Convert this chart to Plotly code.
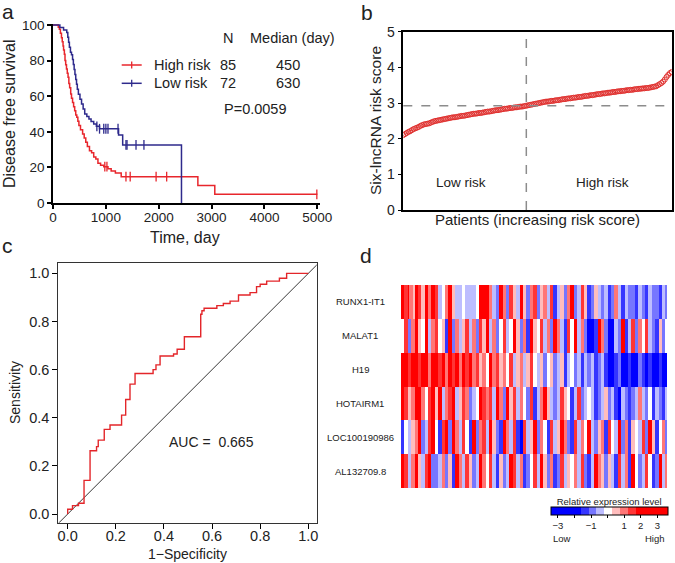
import plotly.graph_objects as go

W, H = 675, 563
FONT = "Liberation Sans, Arial, sans-serif"


def px(x):
    return x / W


def py(y):
    return 1 - y / H


# ---- a: Kaplan-Meier, disease free survival ----
high_t = [0, 100, 120, 140, 160, 175, 190, 200, 215, 227, 240, 255, 270, 285, 300, 315, 335, 350,
          370, 390, 410, 430, 450, 470, 490, 520, 560, 590, 620, 650, 690, 730, 770, 810, 850, 900,
          960, 1040, 1100, 1180, 1290, 2740, 3060, 5000]
high_s = [100, 98.8, 97.6, 95.3, 92.9, 90.6, 88.2, 85.9, 83.5, 80.0, 77.6, 75.3, 72.9, 70.6, 67.1,
          64.7, 61.2, 58.8, 56.5, 54.1, 51.8, 49.4, 48.2, 45.9, 43.5, 41.2, 38.8, 36.5, 34.1, 31.8,
          29.4, 28.2, 25.9, 24.7, 22.4, 21.2, 20.4, 19.2, 18.0, 16.8, 14.8, 9.9, 4.9, 4.9]
low_t = [0, 130, 200, 260, 280, 295, 310, 330, 350, 370, 385, 400, 415, 430, 445, 460, 480, 510,
         540, 570, 600, 640, 680, 720, 770, 820, 880, 1240, 1318, 2430]
low_s = [100, 98.6, 97.2, 95.8, 93.1, 90.3, 87.5, 84.7, 83.3, 80.6, 77.8, 75.0, 72.2, 69.4, 66.7,
         63.9, 61.1, 58.3, 55.6, 52.8, 50.0, 48.6, 47.2, 45.8, 44.4, 43.1, 41.7, 38.2, 32.6, 0]
high_censor_t = [980, 1020, 1380, 1460, 1950, 2150, 4990]
low_censor_t = [830, 880, 960, 1000, 1040, 1230, 1380, 1400, 1570, 1720]
groups = ["High risk", "Low risk"]
n_patients = [85, 72]
median_days = [450, 630]
p_text = "P=0.0059"

# ---- b: risk score distribution ----
risk_score = [
    2.10, 2.13, 2.16, 2.19, 2.21, 2.24, 2.27, 2.29, 2.31, 2.33,
    2.36, 2.38, 2.40, 2.41, 2.42, 2.43, 2.45, 2.47, 2.49, 2.50,
    2.51, 2.52, 2.53, 2.54, 2.55, 2.56, 2.57, 2.58, 2.59, 2.60,
    2.60, 2.61, 2.62, 2.63, 2.64, 2.64, 2.65, 2.66, 2.67, 2.68,
    2.69, 2.70, 2.70, 2.71, 2.72, 2.72, 2.73, 2.74, 2.75, 2.76,
    2.76, 2.77, 2.78, 2.79, 2.80, 2.80, 2.81, 2.82, 2.83, 2.84,
    2.84, 2.85, 2.86, 2.86, 2.87, 2.88, 2.88, 2.89, 2.90, 2.90, 2.91, 2.92,
    2.93, 2.94, 2.95, 2.96, 2.97, 2.98, 2.99, 3.00,
    3.01, 3.02, 3.03, 3.04, 3.04, 3.05, 3.06, 3.06, 3.07, 3.08,
    3.08, 3.09, 3.10, 3.11, 3.11, 3.12, 3.13, 3.13, 3.14, 3.15,
    3.15, 3.16, 3.17, 3.17, 3.18, 3.19, 3.20, 3.20, 3.21, 3.22,
    3.22, 3.23, 3.24, 3.25, 3.25, 3.26, 3.27, 3.27, 3.28, 3.29,
    3.29, 3.30, 3.31, 3.31, 3.32, 3.33, 3.33, 3.34, 3.34, 3.35,
    3.36, 3.36, 3.37, 3.37, 3.38, 3.39, 3.39, 3.40, 3.40, 3.41,
    3.41, 3.42, 3.42, 3.43, 3.44, 3.45, 3.46, 3.47,
    3.50, 3.53, 3.56, 3.60, 3.66, 3.73, 3.79, 3.84, 3.87,
]
n_low = 72
cutoff = 2.92

# ---- c: ROC curve ----
roc_fpr = [0, 0, 0.02, 0.045, 0.068, 0.093, 0.12, 0.127, 0.152, 0.176, 0.224, 0.241, 0.259, 0.28,
           0.355, 0.367, 0.384, 0.44, 0.455, 0.485, 0.553, 0.558, 0.567, 0.62, 0.647, 0.675, 0.71,
           0.758, 0.785, 0.8, 0.827, 0.88, 0.91, 1.0]
roc_tpr = [0, 0.02, 0.035, 0.045, 0.14, 0.263, 0.28, 0.307, 0.352, 0.37, 0.411, 0.476, 0.54, 0.584,
           0.6, 0.62, 0.657, 0.665, 0.685, 0.737, 0.83, 0.845, 0.855, 0.866, 0.875, 0.885, 0.91,
           0.92, 0.945, 0.955, 0.968, 0.98, 1.0, 1.0]
auc = 0.665

# ---- d: heatmap of six lncRNAs (0 = lowest ... 8 = highest) ----
genes = ["RUNX1-IT1", "MALAT1", "H19", "HOTAIRM1", "LOC100190986", "AL132709.8"]
heat_rows = [
    "".join(["8877866588", "7755886688", "7733446688", "5533334433", "3333448888", "8866332288",
             "6622775533", "8855226677", "2255663377", "1133552266", "8822337755", "1122553322",
             "3311226633", "1133222211", "3322113322", "2211332"]),
    "".join(["4477226688", "5544883366", "7744551188", "2266335577", "3366227755", "8833662244",
             "7733448855", "2266118855", "4477336622", "8866331177", "4488336622", "0000118866",
             "2200003322", "8811337722", "6644773322", "1155224"]),
    "".join(["8888778888", "7788886688", "8877886688", "7788668877", "8866775566", "4488667755",
             "6644773355", "6633557744", "3355224455", "2233551133", "4422331133", "2233112233",
             "1100001122", "0000110000", "2211001100", "0011000"]),
    "".join(["8877556688", "8866447788", "5588336677", "8833557766", "2233448877", "6677338866",
             "2288557733", "6644227711", "3366885533", "2233775544", "1133772233", "4433112233",
             "5522331100", "3322112233", "6633224411", "3322113"]),
    "".join(["1144335566", "8822337788", "4411778822", "8866337744", "1188226677", "3388552211",
             "8866337711", "0077335588", "2266441177", "3355886622", "1177336644", "8833225566",
             "1177443388", "2266115544", "3377228855", "1144662"]),
    "".join(["8877336688", "5533778822", "2233662255", "1188663377", "5522338866", "4477331155",
             "2233887733", "6611224477", "3388552266", "1122773355", "4466337722", "1133886655",
             "2255331177", "3366118844", "2233774411", "2288336"]),
]
levels = [-3.0, -1.4, -0.9, -0.45, 0.0, 0.45, 0.95, 1.45, 2.6]
band_breaks = [-1.65, -1.15, -0.7, -0.22, 0.22, 0.7, 1.2, 1.68]
band_colors = ["#0000FF", "#3535FF", "#7676FF", "#BDBDFF", "#FFFFFF",
               "#FFBDBD", "#FF7676", "#FF3535", "#FF0000"]
zmin, zmax = -3.44, 3.63

RED = "#E8262C"
BLUE = "#2E2A8C"


def step_at(ts, ss, t):
    val = ss[0]
    for ti, si in zip(ts, ss):
        if ti <= t:
            val = si
    return val


fig = go.Figure()

# a
fig.add_trace(go.Scatter(x=high_t, y=high_s, mode="lines", line=dict(color=RED, width=1.5, shape="hv"),
                         xaxis="x", yaxis="y", showlegend=False))
fig.add_trace(go.Scatter(x=low_t, y=low_s, mode="lines", line=dict(color=BLUE, width=1.5, shape="hv"),
                         xaxis="x", yaxis="y", showlegend=False))
fig.add_trace(go.Scatter(x=high_censor_t, y=[step_at(high_t, high_s, t) for t in high_censor_t],
                         mode="markers", marker=dict(symbol="line-ns", size=7, line=dict(width=1.3, color=RED)),
                         xaxis="x", yaxis="y", showlegend=False, cliponaxis=False))
fig.add_trace(go.Scatter(x=low_censor_t, y=[step_at(low_t, low_s, t) for t in low_censor_t],
                         mode="markers", marker=dict(symbol="line-ns", size=7, line=dict(width=1.3, color=BLUE)),
                         xaxis="x", yaxis="y", showlegend=False))

# b
fig.add_trace(go.Scatter(x=list(range(1, len(risk_score) + 1)), y=risk_score, mode="markers",
                         marker=dict(symbol="circle-open", size=5, color="#E0302E", line=dict(width=1)),
                         xaxis="x2", yaxis="y2", showlegend=False))

# c
fig.add_trace(go.Scatter(x=[-0.05, 1.05], y=[-0.05, 1.05], mode="lines", line=dict(color="black", width=0.8),
                         xaxis="x3", yaxis="y3", showlegend=False))
fig.add_trace(go.Scatter(x=roc_fpr, y=roc_tpr, mode="lines", line=dict(color="#E3262A", width=1.4, shape="hv"),
                         xaxis="x3", yaxis="y3", showlegend=False))

# d
cs = []
stops = [0.0] + [(b - zmin) / (zmax - zmin) for b in band_breaks] + [1.0]
for i, c in enumerate(band_colors):
    cs.append([stops[i], c])
    cs.append([stops[i + 1], c])
z = [[levels[int(ch)] for ch in row] for row in heat_rows]
assert all(len(r) == len(z[0]) for r in z)
fig.add_trace(go.Heatmap(
    z=z, x=list(range(1, len(z[0]) + 1)), y=genes, xaxis="x4", yaxis="y4",
    colorscale=cs, zmin=zmin, zmax=zmax, showscale=True,
    colorbar=dict(orientation="h", x=px(550.7), xanchor="left", y=py(496), yanchor="top",
                  lenmode="pixels", len=116.6, thicknessmode="pixels", thickness=8,
                  xpad=0, ypad=0, outlinewidth=1, outlinecolor="black",
                  tickvals=[-3, -2, -1, 0, 1, 2, 3], ticktext=["\u22123", "", "\u22121", "", "1", "2", "3"],
                  ticks="outside", ticklen=3, tickcolor="black", tickfont=dict(size=9.5, color="#222"),
                  title=dict(text="Relative expression level", side="top", font=dict(size=9.5, color="#222"))),
))

axis_common = dict(showgrid=False, zeroline=False, linecolor="black", tickcolor="black",
                   tickfont=dict(family=FONT, color="#222"))

fig.update_layout(
    width=W, height=H, margin=dict(l=0, r=0, t=0, b=0, autoexpand=False),
    paper_bgcolor="white", plot_bgcolor="white",
    font=dict(family=FONT, color="#222"),
    xaxis=dict(axis_common, domain=[px(53), px(320)], range=[0, 5050], anchor="y",
               tickvals=[0, 1000, 2000, 3000, 4000, 5000], showline=True, linewidth=1.5,
               ticks="outside", ticklen=4, tickwidth=1.5, tickfont=dict(size=13.5), ticklabelstandoff=-3),
    yaxis=dict(axis_common, domain=[py(203), py(24)], range=[0, 100.56], anchor="x",
               tickvals=[0, 20, 40, 60, 80, 100], showline=True, linewidth=1.5,
               ticks="outside", ticklen=4, tickwidth=1.5, tickfont=dict(size=13.5)),
    xaxis2=dict(axis_common, domain=[px(403.3), px(671.7)], range=[1, len(risk_score)], anchor="y2",
                showline=True, mirror=True, linewidth=1.6, showticklabels=False, ticks=""),
    yaxis2=dict(axis_common, domain=[py(210), py(31.7)], range=[0, 5], anchor="x2",
                tickvals=[0, 1, 2, 3, 4, 5], showline=True, mirror=True, linewidth=1.6,
                ticks="outside", ticklen=4, tickwidth=1.2, tickfont=dict(size=14)),
    xaxis3=dict(axis_common, domain=[px(58.3), px(316.7)], range=[-0.039, 1.035], anchor="y3",
                tickvals=[0, 0.2, 0.4, 0.6, 0.8, 1.0], tickformat=".1f", showline=True, mirror=True,
                linewidth=1, linecolor="#333", ticks="outside", ticklen=5, tickfont=dict(size=14.5),
                ticklabelstandoff=-5),
    yaxis3=dict(axis_common, domain=[py(522.7), py(263.3)], range=[-0.036, 1.042], anchor="x3",
                tickvals=[0, 0.2, 0.4, 0.6, 0.8, 1.0], tickformat=".1f", showline=True, mirror=True,
                linewidth=1, linecolor="#333", ticks="outside", ticklen=5, tickfont=dict(size=14.5)),
    xaxis4=dict(domain=[px(401), px(667)], anchor="y4", showticklabels=False, ticks="",
                showgrid=False, zeroline=False, showline=False),
    yaxis4=dict(domain=[py(488.3), py(285)], anchor="x4", autorange="reversed", showticklabels=False,
                ticks="", showgrid=False, zeroline=False, showline=False),
)

# b: cutoff lines
fig.add_shape(type="line", xref="x2 domain", yref="y2", x0=0, x1=1, y0=cutoff, y1=cutoff,
              line=dict(color="#8C8C8C", width=1.5, dash="dash"))
fig.add_shape(type="line", xref="x2", yref="y2 domain", x0=n_low + 0.5, x1=n_low + 0.5, y0=0, y1=1,
              line=dict(color="#8C8C8C", width=1.5, dash="dash"))

ann = []


def text(x, y, s, size, xanchor="center", angle=0, **kw):
    ann.append(dict(x=x, y=y, xref=kw.pop("xref", "paper"), yref=kw.pop("yref", "paper"), text=s,
                    showarrow=False, xanchor=xanchor, yanchor="middle", textangle=angle,
                    font=dict(family=FONT, size=size, color="#222"), **kw))


# panel letters
text(px(8), py(11), "a", 21)
text(px(367), py(12), "b", 21)
text(px(7), py(246), "c", 21)
text(px(366), py(255), "d", 21)

# a texts
text(px(185), py(237), "Time, day", 16)
text(px(10), py(114), "Disease free survival", 16, angle=-90)
text(px(227.7), py(38.3), "N", 14.5)
text(px(292.7), py(38.3), "Median (day)", 14.5)
for i, (g, n, m) in enumerate(zip(groups, n_patients, median_days)):
    yy = [65, 83.3][i]
    col = [RED, BLUE][i]
    text(px(151.7), py(yy), g, 14.5, xanchor="left")
    text(px(228), py(yy), str(n), 14.5)
    text(px(288.3), py(yy), str(m), 14.5)
    fig.add_shape(type="line", xref="paper", yref="paper", x0=px(121.7), x1=px(141.7), y0=py(yy), y1=py(yy),
                  line=dict(color=col, width=1.5))
    fig.add_shape(type="line", xref="paper", yref="paper", x0=px(131.7), x1=px(131.7), y0=py(yy - 3.5),
                  y1=py(yy + 3.5), line=dict(color=col, width=1.3))
text(px(255.3), py(109.3), p_text, 14.5)

# b texts
text(px(375), py(121), "Six-lncRNA risk score", 15.5, angle=-90)
text(px(537), py(220), "Patients (increasing risk score)", 15)
text(0.214, 0.76, "Low risk", 13.5, xref="x2 domain", yref="y2")
text(0.744, 0.76, "High risk", 13.5, xref="x2 domain", yref="y2")

# c texts
text(px(15), py(393), "Sensitivity", 14, angle=-90)
text(px(187.7), py(554), "1\u2212Specificity", 14)
text(0.596, 0.298, "AUC =  %.3f" % auc, 14, xref="x3", yref="y3")

# d texts
for g in genes:
    text(px(360), g, g, 9.5, yref="y4")
text(px(551), py(538), "Low", 9.5, xanchor="left")
text(px(667.3), py(538), "High", 9.5, xanchor="right")

fig.update_layout(annotations=ann)

# the page body has a default 8px margin; drop it so the figure fills the window
fig.write_html("out.html", config={"displayModeBar": False},
               post_script="document.body.style.margin='0';")
